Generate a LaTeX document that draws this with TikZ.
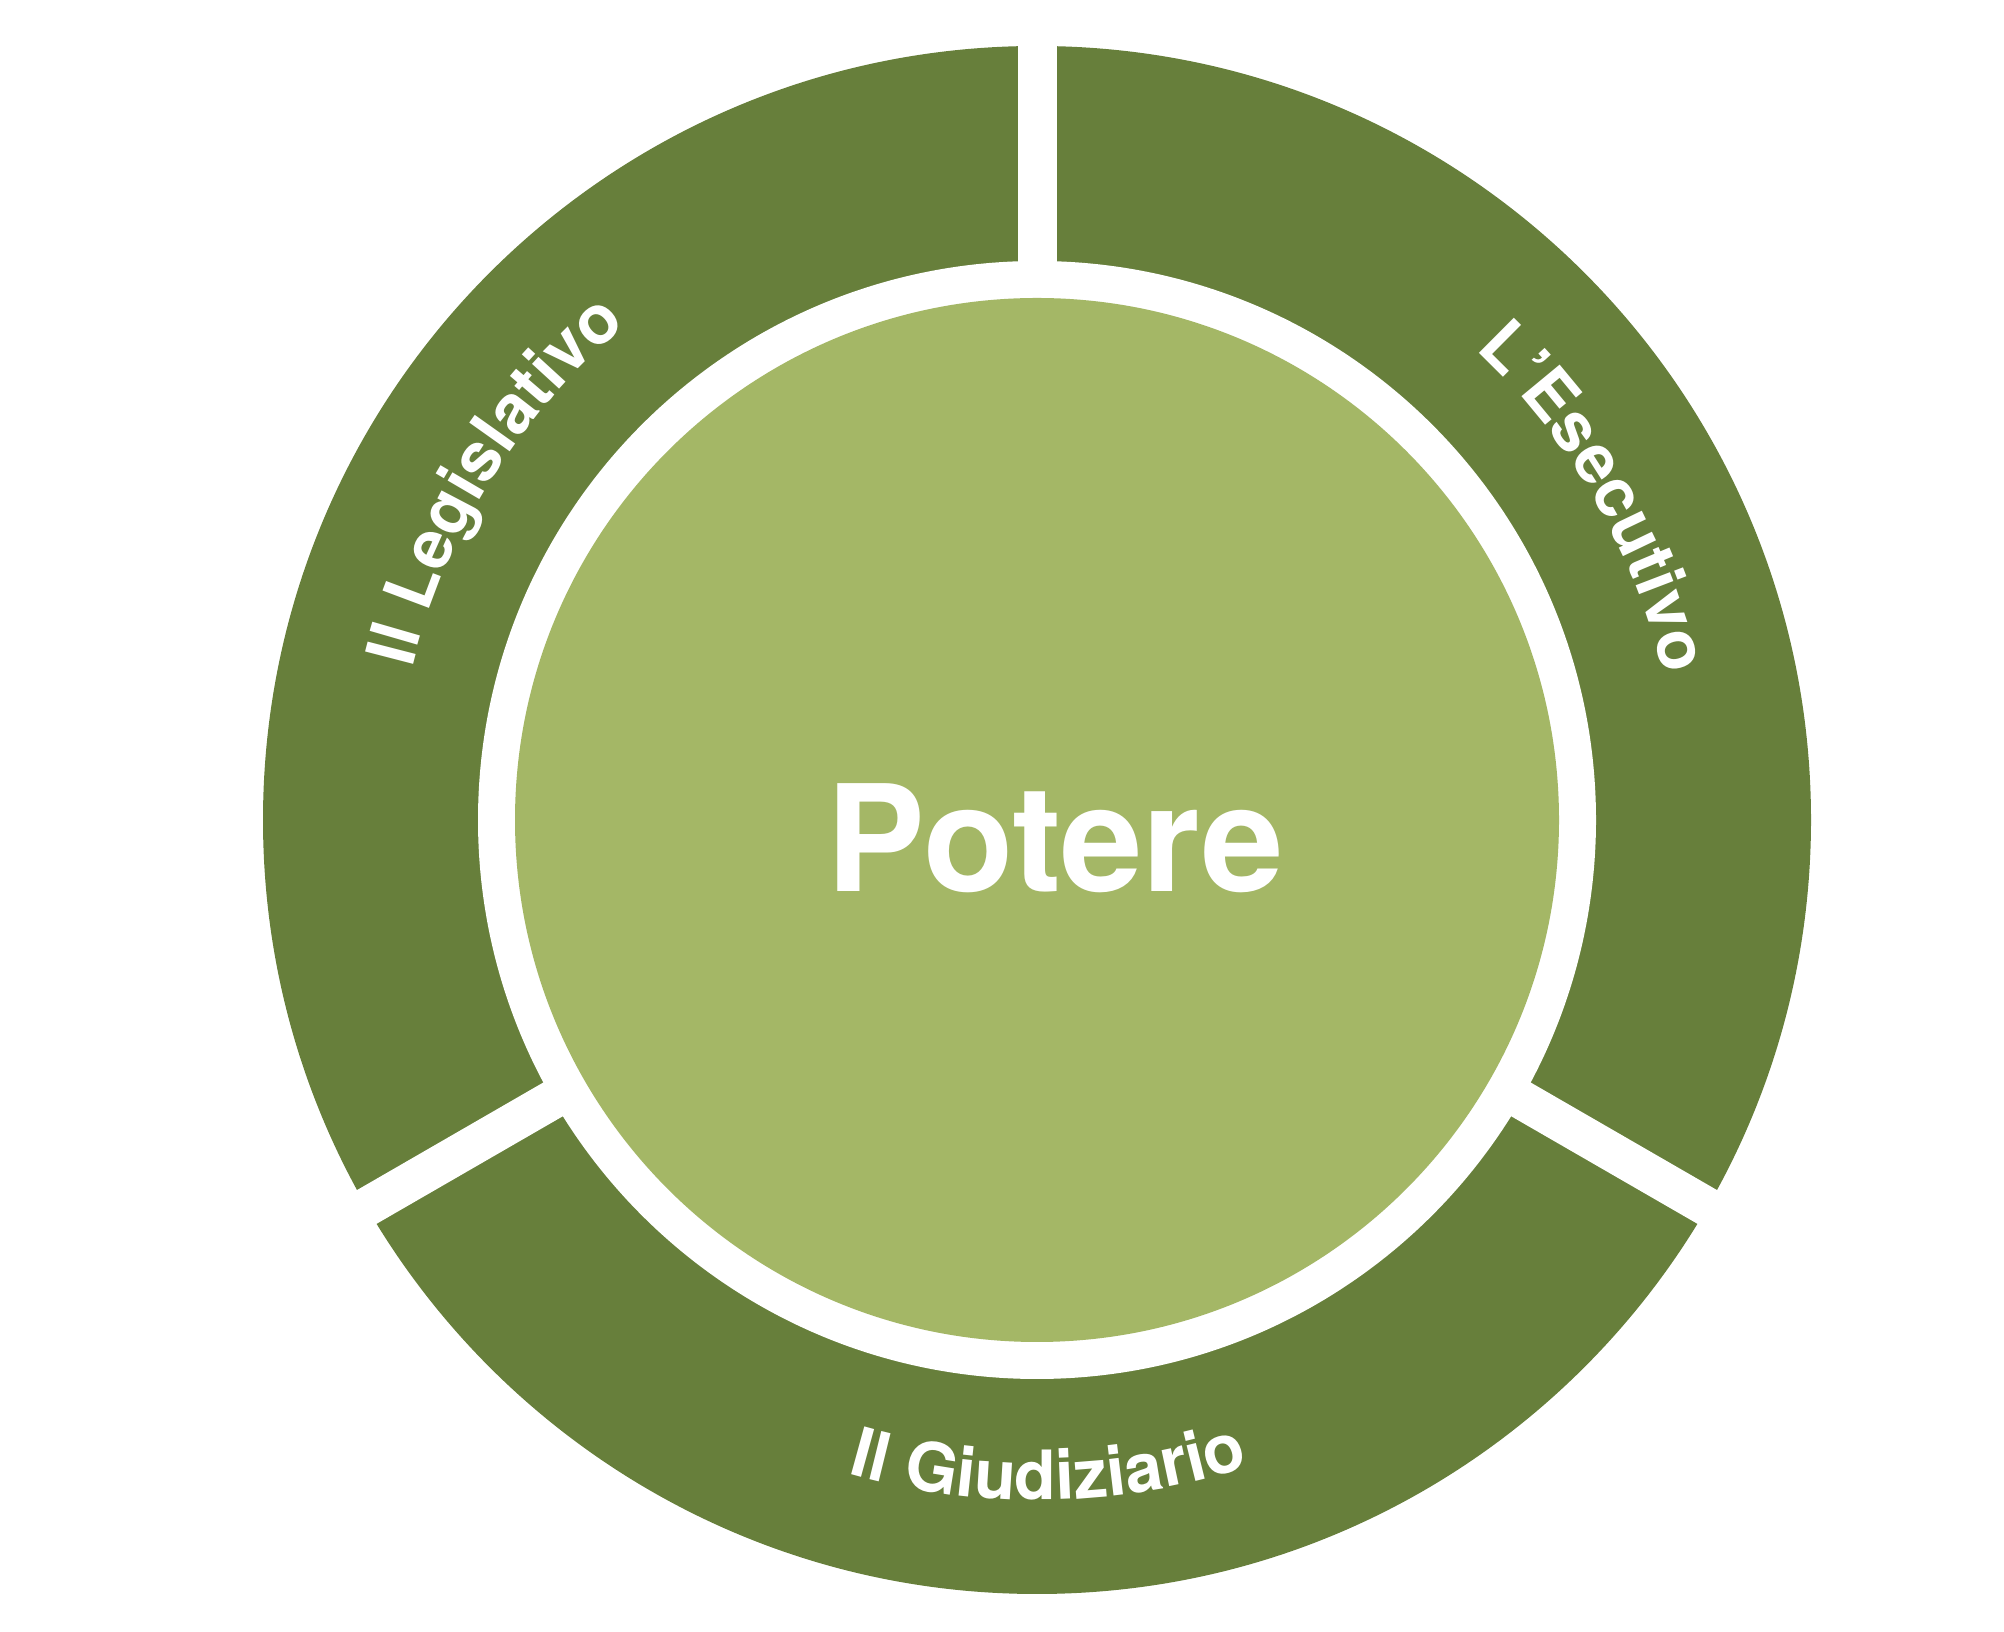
\documentclass[tikz,border=0pt]{standalone}
\usepackage{fontspec}
\newfontfamily\heros{TeX Gyre Heros}
\usetikzlibrary{decorations.text}
\definecolor{ringgreen}{RGB}{103,127,59}
\definecolor{coregreen}{RGB}{164,183,102}
\begin{document}
\begin{tikzpicture}[x=1pt,y=1pt,
  ringlabel/.style={decorate, decoration={text along path, text color=white, text align=center,
    text={|\heros\bfseries\fontsize{68}{68}\selectfont|#1}}},
  gapline/.style={white, line width=39}]
\useasboundingbox (0,0) rectangle (2004,1632);
\coordinate (c) at (1037,812);
\fill[ringgreen] (c) circle[radius=774];
\foreach \a in {90,210,330} \draw[gapline] (c) -- ++(\a:800);
\fill[white] (c) circle[radius=559];
\fill[coregreen] (c) circle[radius=522];
\node[font=\heros\bfseries\fontsize{148}{148}\selectfont, text=white, anchor=base, inner sep=0] (potere) at (1055,740) {Potere};
\path[ringlabel={Il Legislativo}] ([shift={(173:643)}]c) arc[start angle=173, end angle=123, radius=643];
\path[ringlabel={L’Esecutivo}] ([shift={(55:643)}]c) arc[start angle=55, end angle=5, radius=643];
\path[ringlabel={Il Giudiziario}] ([shift={(246:680)}]c) arc[start angle=246, end angle=296, radius=680];
\end{tikzpicture}
\end{document}
